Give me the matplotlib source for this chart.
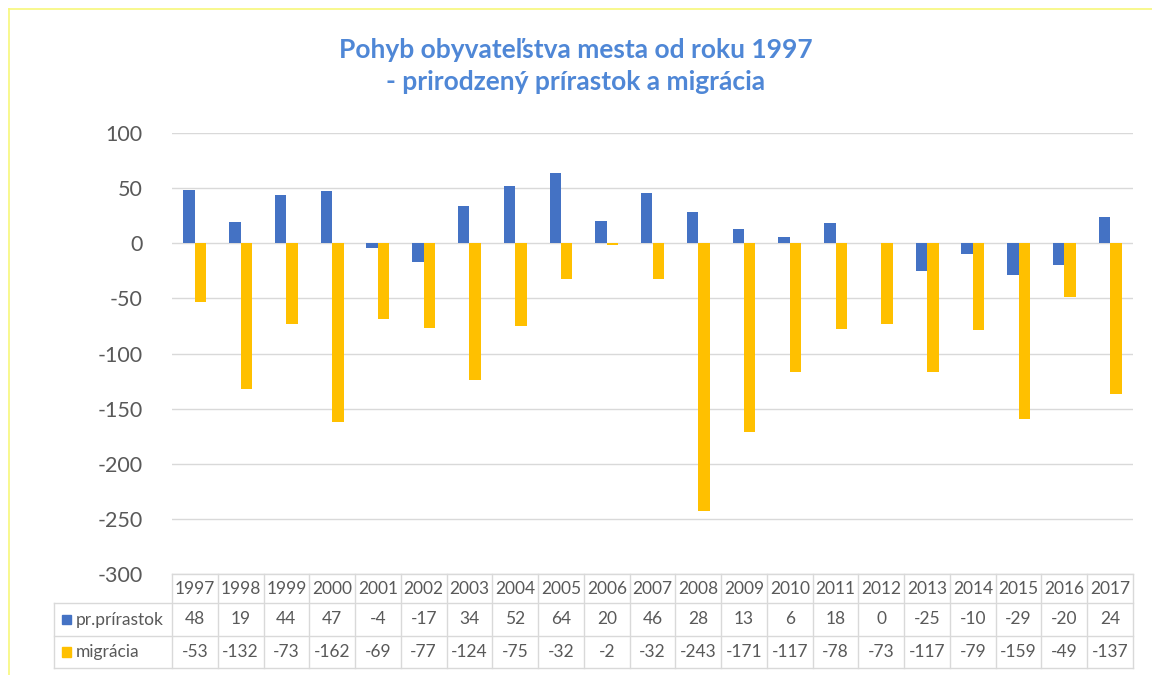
import matplotlib
matplotlib.use('Agg')
import numpy as np
import matplotlib.pyplot as plt
import matplotlib.transforms as mtransforms
from matplotlib.lines import Line2D
from matplotlib.patches import Rectangle

years = [str(y) for y in range(1997, 2018)]
prirastok = [48, 19, 44, 47, -4, -17, 34, 52, 64, 20, 46, 28, 13, 6, 18, 0, -25, -10, -29, -20, 24]
migracia = [-53, -132, -73, -162, -69, -77, -124, -75, -32, -2, -32, -243, -171, -117, -78, -73, -117, -79, -159, -49, -137]
series_names = ["pr.prírastok", "migrácia"]
y_ticks = [100, 50, 0, -50, -100, -150, -200, -250, -300]

blue = '#4472C4'
gold = '#FFC000'
grid = '#D9D9D9'
txt = '#595959'

plt.rcParams['font.family'] = ['Lato', 'DejaVu Sans']

fig = plt.figure(figsize=(11.52, 6.75), dpi=100)
ax = fig.add_axes([172/1152, 1-574/675, (1133-172)/1152, (574-133)/675])

x = np.arange(len(years))
w = 0.25
ax.bar(x - w/2, prirastok, width=w, color=blue, zorder=3)
ax.bar(x + w/2, migracia, width=w, color=gold, zorder=3)

ax.set_xlim(-0.5, len(years) - 0.5)
ax.set_ylim(-300, 100)
ax.set_yticks(y_ticks)
ax.set_yticklabels([str(t) for t in y_ticks], fontsize=15.5, color=txt)
ax.tick_params(axis='y', length=0, pad=21)
ax.set_xticks([])
ax.grid(axis='y', color=grid, linewidth=1, zorder=0)
for s in ax.spines.values():
    s.set_visible(False)

# data table under the axes
trans = mtransforms.blended_transform_factory(ax.transData, ax.transAxes)
rows = [0, -29/441, -62/441, -94/441]
lab_left = -0.5 - (172 - 54) / 961 * len(years)
n = len(years)
kw = dict(color=grid, linewidth=1, transform=trans, clip_on=False)
ax.add_line(Line2D([-0.5, n - 0.5], [rows[0], rows[0]], **kw))
for r in rows[1:]:
    ax.add_line(Line2D([lab_left, n - 0.5], [r, r], **kw))
for i in range(n + 1):
    ax.add_line(Line2D([i - 0.5, i - 0.5], [rows[0], rows[3]], **kw))
ax.add_line(Line2D([lab_left, lab_left], [rows[1], rows[3]], **kw))

fs = 12.5
for i, yr in enumerate(years):
    ax.text(i, (rows[0] + rows[1]) / 2, yr, ha='center', va='center', fontsize=fs, color=txt, transform=trans)
    ax.text(i, (rows[1] + rows[2]) / 2, str(prirastok[i]), ha='center', va='center', fontsize=fs, color=txt, transform=trans)
    ax.text(i, (rows[2] + rows[3]) / 2, str(migracia[i]), ha='center', va='center', fontsize=fs, color=txt, transform=trans)

for k, (name, col) in enumerate(zip(series_names, [blue, gold])):
    yc = (rows[k + 1] + rows[k + 2]) / 2
    ax.add_patch(Rectangle((lab_left + 0.17, yc - 0.011), 0.2, 0.022, color=col, transform=trans, clip_on=False))
    ax.text(lab_left + 0.48, yc, name, ha='left', va='center', fontsize=fs, color=txt, transform=trans)

fig.text(0.5, 1 - 66/675, "Pohyb obyvateľstva mesta od roku 1997\n- prirodzený prírastok a migrácia",
         ha='center', va='center', fontsize=19, fontweight='bold', color='#4F87D6', linespacing=1.4)

# yellow frame on top / left
fig.add_artist(Line2D([9/1152, 1], [1 - 9/675, 1 - 9/675], color='#F7F77A', linewidth=1.2, transform=fig.transFigure))
fig.add_artist(Line2D([9/1152, 9/1152], [0, 1 - 9/675], color='#F7F77A', linewidth=1.2, transform=fig.transFigure))

fig.savefig('out.png', dpi=100)
